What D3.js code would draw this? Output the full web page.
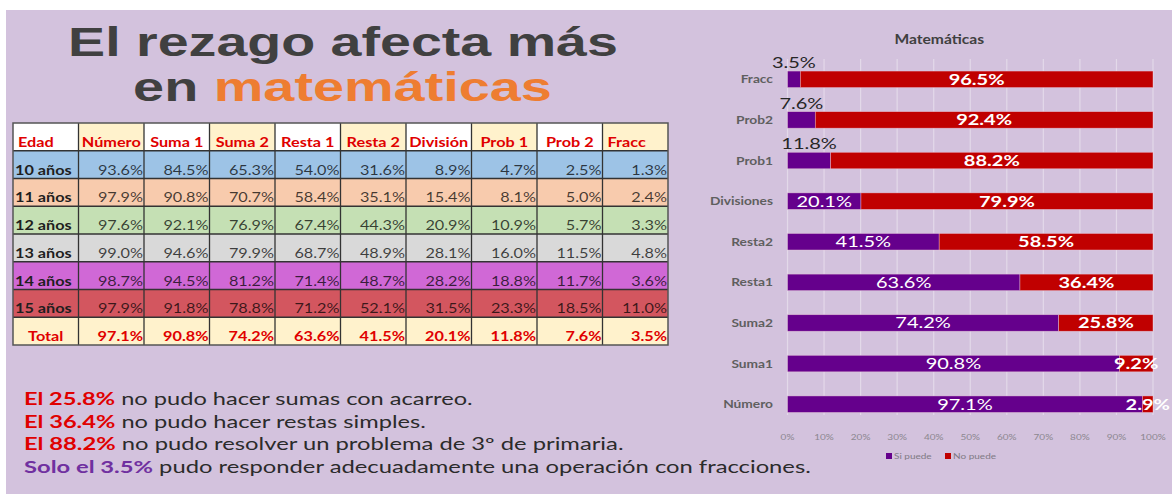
<!DOCTYPE html>
<html>
<head>
<meta charset="utf-8">
<script src="https://cdn.jsdelivr.net/npm/d3@7"></script>
<style>
    html, body { margin: 0; padding: 0; background: #ffffff; }
    svg { display: block; }
</style>
</head>
<body>
<div id="chart"></div>
<script>
/*global d3*/
"use strict";

// ---- data ----
var tableHeaders = ["Edad", "Número", "Suma 1", "Suma 2", "Resta 1", "Resta 2", "División", "Prob 1", "Prob 2", "Fracc"];
var ageGroups = ["10 años", "11 años", "12 años", "13 años", "14 años", "15 años", "Total"];
var tableValues = [
    [93.6, 84.5, 65.3, 54.0, 31.6, 8.9, 4.7, 2.5, 1.3],
    [97.9, 90.8, 70.7, 58.4, 35.1, 15.4, 8.1, 5.0, 2.4],
    [97.6, 92.1, 76.9, 67.4, 44.3, 20.9, 10.9, 5.7, 3.3],
    [99.0, 94.6, 79.9, 68.7, 48.9, 28.1, 16.0, 11.5, 4.8],
    [98.7, 94.5, 81.2, 71.4, 48.7, 28.2, 18.8, 11.7, 3.6],
    [97.9, 91.8, 78.8, 71.2, 52.1, 31.5, 23.3, 18.5, 11.0],
    [97.1, 90.8, 74.2, 63.6, 41.5, 20.1, 11.8, 7.6, 3.5]
];
var chartCategories = ["Fracc", "Prob2", "Prob1", "Divisiones", "Resta2", "Resta1", "Suma2", "Suma1", "Número"];
var siPuede = [3.5, 7.6, 11.8, 20.1, 41.5, 63.6, 74.2, 90.8, 97.1];
var noPuede = [96.5, 92.4, 88.2, 79.9, 58.5, 36.4, 25.8, 9.2, 2.9];
var seriesNames = ["Si puede", "No puede"];
var xTicks = [0, 10, 20, 30, 40, 50, 60, 70, 80, 90, 100];
var titleLines = [["El rezago afecta más"], ["en ", "matemáticas"]];
var notes = [
    ["El 25.8%", " no pudo hacer sumas con acarreo."],
    ["El 36.4%", " no pudo hacer restas simples."],
    ["El 88.2%", " no pudo resolver un problema de 3º de primaria."],
    ["Solo el 3.5%", " pudo responder adecuadamente una operación con fracciones."]
];

// ---- styles ----
var W = 1172;
var H = 494;
var SX = 1.25; // the source picture is stretched horizontally
var BODY_FONT = "Lato, 'DejaVu Sans', sans-serif";
var colors = {
    bg: "#d3c2dd",
    dark: "#404040",
    orange: "#ee7d31",
    red: "#e00000",
    violet: "#7030a0",
    purple: "#65008c",
    barRed: "#c00000",
    cream: "#fff2cc",
    rows: ["#9dc3e6", "#f8cbad", "#c5e0b4", "#d9d9d9", "#d068d6", "#d3565f", "#fff2cc"]
};

var svg = d3.select("#chart").append("svg")
    .attr("width", W)
    .attr("height", H);

svg.append("rect").attr("width", W).attr("height", H).attr("fill", "#ffffff");
svg.append("rect").attr("x", 6).attr("y", 10).attr("width", W - 6).attr("height", H - 10).attr("fill", colors.bg);

// put a text at (x,y) and stretch it sideways
function addText(parent, x, y, sx) {
    return parent.append("text")
        .attr("transform", "translate(" + x + "," + y + ") scale(" + (sx || SX) + ",1)");
}

// stretch a text so that it spans the given width
function fitText(textSel, x, y, width) {
    var len = textSel.node().getComputedTextLength();
    textSel.attr("transform", "translate(" + x + "," + y + ") scale(" + (width / len) + ",1)");
}

// ---- title ----
var titleBox = [{cx: 343, y: 56, w: 550}, {cx: 342.5, y: 101, w: 419}];
titleLines.forEach(function (parts, i) {
    var t = svg.append("text")
        .attr("text-anchor", "middle")
        .style("font-family", "'Liberation Sans', Arial, sans-serif")
        .style("font-weight", "bold")
        .style("font-size", "40px");
    parts.forEach(function (p, j) {
        t.append("tspan").text(p).attr("fill", j === 1 ? colors.orange : colors.dark);
    });
    fitText(t, titleBox[i].cx, titleBox[i].y, titleBox[i].w);
});

// ---- table ----
var table = svg.append("g").attr("class", "table");
var colX = d3.scaleBand().domain(tableHeaders).range([13, 668]);
var rowY = d3.scaleBand().domain(["header"].concat(ageGroups)).range([123, 345]);

tableHeaders.forEach(function (h, i) {
    table.append("rect")
        .attr("x", colX(h)).attr("y", rowY("header"))
        .attr("width", colX.bandwidth()).attr("height", rowY.bandwidth())
        .attr("fill", i % 2 === 0 ? "#ffffff" : colors.cream);
    var left = i === 0 || i === tableHeaders.length - 1;
    addText(table, left ? colX(h) + 5 : colX(h) + colX.bandwidth() / 2, rowY("header") + rowY.bandwidth() - 4)
        .attr("text-anchor", left ? "start" : "middle")
        .style("font-family", BODY_FONT)
        .style("font-weight", "bold")
        .style("font-size", "13px")
        .attr("fill", colors.red)
        .text(h);
});

ageGroups.forEach(function (age, r) {
    var isTotal = r === ageGroups.length - 1;
    var yTop = rowY(age);
    table.append("rect")
        .attr("x", colX.range()[0]).attr("y", yTop)
        .attr("width", colX.range()[1] - colX.range()[0]).attr("height", rowY.bandwidth())
        .attr("fill", colors.rows[r]);
    addText(table, isTotal ? colX(tableHeaders[0]) + colX.bandwidth() / 2 : colX(tableHeaders[0]) + 2, yTop + rowY.bandwidth() - 4)
        .attr("text-anchor", isTotal ? "middle" : "start")
        .style("font-family", BODY_FONT)
        .style("font-weight", "bold")
        .style("font-size", "13px")
        .attr("fill", isTotal ? colors.red : "#1e1e1e")
        .text(age);
    tableValues[r].forEach(function (v, c) {
        var h = tableHeaders[c + 1];
        addText(table, colX(h) + colX.bandwidth() - 1, yTop + rowY.bandwidth() - 4)
            .attr("text-anchor", "end")
            .style("font-family", BODY_FONT)
            .style("font-weight", isTotal ? "bold" : "normal")
            .style("font-size", "13px")
            .attr("fill", isTotal ? colors.red : "#000000")
            .attr("fill-opacity", isTotal ? 1 : 0.72)
            .text(v.toFixed(1) + "%");
    });
});

// grid of the table
table.selectAll(".vline")
    .data(tableHeaders.slice(1))
    .enter().append("line")
    .attr("x1", function (h) { return colX(h); })
    .attr("x2", function (h) { return colX(h); })
    .attr("y1", rowY.range()[0]).attr("y2", rowY.range()[1])
    .attr("stroke", "#333333").attr("stroke-width", 1.3);
table.selectAll(".hline")
    .data(ageGroups)
    .enter().append("line")
    .attr("x1", colX.range()[0]).attr("x2", colX.range()[1])
    .attr("y1", function (a) { return rowY(a); })
    .attr("y2", function (a) { return rowY(a); })
    .attr("stroke", "#333333").attr("stroke-width", 1.3);
table.append("rect")
    .attr("x", colX.range()[0]).attr("y", rowY.range()[0])
    .attr("width", colX.range()[1] - colX.range()[0])
    .attr("height", rowY.range()[1] - rowY.range()[0])
    .attr("fill", "none").attr("stroke", "#555555").attr("stroke-width", 1.5);

// ---- notes ----
var noteBox = {x: 24, ys: [405, 427.5, 450, 472.5], widths: [449, 402, 600, 787]};
notes.forEach(function (parts, i) {
    var t = svg.append("text")
        .style("font-family", BODY_FONT)
        .style("font-size", "17px");
    t.append("tspan").text(parts[0])
        .attr("fill", i === notes.length - 1 ? colors.violet : colors.red)
        .style("font-weight", "bold");
    t.append("tspan").text(parts[1]).attr("fill", "#2b2b2b");
    fitText(t, noteBox.x, noteBox.ys[i], noteBox.widths[i]);
});

// ---- bar chart ----
var chart = svg.append("g").attr("class", "bncharts");
var x = d3.scaleLinear().domain([0, 100]).range([787.5, 1153]);
var y = d3.scaleBand().domain(chartCategories).range([59, 424.5]).paddingInner(0.594).paddingOuter(0.297);
var gridBottom = 415;

var rows = chartCategories.map(function (c, i) {
    return {cat: c, "Si puede": siPuede[i], "No puede": noPuede[i]};
});
var stacked = d3.stack().keys(seriesNames)(rows);
var barColor = d3.scaleOrdinal().domain(seriesNames).range([colors.purple, colors.barRed]);

addText(chart, (x.range()[0] + x.range()[1]) / 2 - 31, 44)
    .attr("text-anchor", "middle")
    .style("font-family", BODY_FONT)
    .style("font-weight", "bold")
    .style("font-size", "12.5px")
    .attr("fill", colors.dark)
    .text("Matemáticas");

chart.selectAll(".grid")
    .data(xTicks)
    .enter().append("line")
    .attr("x1", function (d) { return x(d); })
    .attr("x2", function (d) { return x(d); })
    .attr("y1", y.range()[0]).attr("y2", gridBottom)
    .attr("stroke", "#e3d9e9").attr("stroke-width", 1.2);

xTicks.forEach(function (d) {
    addText(chart, x(d), 440)
        .attr("text-anchor", "middle")
        .style("font-family", BODY_FONT)
        .style("font-size", "8px")
        .attr("fill", "#8c8790")
        .text(d + "%");
});

chartCategories.forEach(function (c) {
    addText(chart, 773, y(c) + y.bandwidth() / 2 + 4)
        .attr("text-anchor", "end")
        .style("font-family", BODY_FONT)
        .style("font-weight", "bold")
        .style("font-size", "11px")
        .attr("fill", "#5f5f5f")
        .text(c);
});

var layer = chart.selectAll(".layer")
    .data(stacked)
    .enter().append("g")
    .attr("fill", function (d) { return barColor(d.key); });
layer.selectAll("rect")
    .data(function (d) { return d; })
    .enter().append("rect")
    .attr("x", function (d) { return x(d[0]); })
    .attr("y", function (d) { return y(d.data.cat); })
    .attr("width", function (d) { return x(d[1]) - x(d[0]); })
    .attr("height", y.bandwidth())
    .attr("stroke", "#e8c8d8").attr("stroke-width", 0.6).attr("stroke-opacity", 0.7);

stacked.forEach(function (s) {
    s.forEach(function (d) {
        var v = d[1] - d[0];
        var cx = x((d[0] + d[1]) / 2);
        var above = s.key === "Si puede" && v < 15;
        addText(chart, cx, above ? y(d.data.cat) - 3 : y(d.data.cat) + y.bandwidth() / 2 + 5.5)
            .attr("text-anchor", "middle")
            .style("font-family", BODY_FONT)
            .style("font-weight", s.key === "No puede" ? "bold" : "normal")
            .style("font-size", "16px")
            .attr("fill", above ? "#262626" : "#ffffff")
            .text(v.toFixed(1) + "%");
    });
});

// legend
var legendX = [886, 945];
seriesNames.forEach(function (n, i) {
    chart.append("rect")
        .attr("x", legendX[i]).attr("y", 453)
        .attr("width", 6).attr("height", 6)
        .attr("fill", barColor(n));
    addText(chart, legendX[i] + 8, 459)
        .style("font-family", BODY_FONT)
        .style("font-size", "8px")
        .attr("fill", "#7f7a84")
        .text(n);
});
</script>
</body>
</html>
